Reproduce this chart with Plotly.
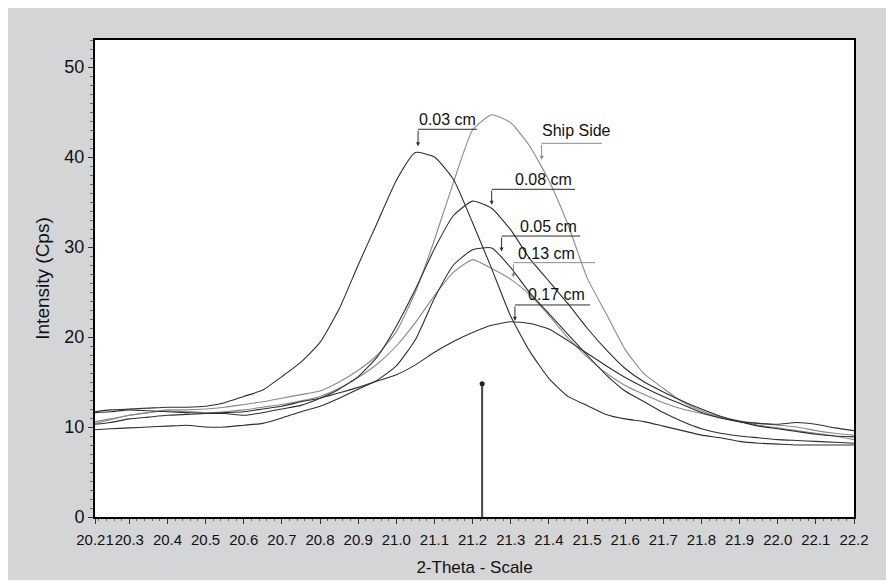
import plotly.graph_objects as go

# ---------------- data ----------------
two_theta = [20.21, 20.25, 20.30, 20.35, 20.40, 20.45, 20.50, 20.55, 20.60, 20.65,
             20.70, 20.75, 20.80, 20.85, 20.90, 20.95, 21.00, 21.05, 21.10, 21.15,
             21.20, 21.25, 21.30, 21.35, 21.40, 21.45, 21.50, 21.55, 21.60, 21.65,
             21.70, 21.75, 21.80, 21.85, 21.90, 21.95, 22.00, 22.05, 22.10, 22.15, 22.20]

i_003 = [11.7, 11.9, 12.0, 12.1, 12.2, 12.2, 12.3, 12.7, 13.4, 14.1,
         15.6, 17.2, 19.4, 23.1, 28.0, 32.7, 37.4, 40.5, 40.0, 37.5,
         32.7, 27.6, 22.3, 18.4, 15.4, 13.4, 12.4, 11.4, 10.9, 10.6,
         10.1, 9.6, 9.1, 8.8, 8.4, 8.2, 8.1, 8.0, 8.0, 8.0, 8.0]

i_ship = [10.4, 10.8, 11.3, 11.6, 11.9, 11.9, 12.0, 12.2, 12.5, 12.8,
          13.2, 13.6, 14.0, 15.0, 16.3, 18.0, 20.6, 25.0, 30.8, 37.2,
          43.0, 44.7, 43.8, 41.2, 37.4, 32.5, 26.6, 22.6, 18.6, 15.9,
          14.3, 12.8, 11.8, 11.1, 10.7, 10.4, 10.2, 10.0, 9.6, 9.3, 9.1]

i_008 = [10.3, 10.5, 10.9, 11.1, 11.3, 11.4, 11.5, 11.5, 11.3, 11.6,
         12.0, 12.4, 13.2, 14.2, 15.6, 17.8, 21.2, 25.3, 29.8, 33.5,
         35.1, 34.3, 31.9, 28.7, 26.2, 23.7, 21.0, 18.6, 16.5, 15.0,
         13.9, 12.9, 12.0, 11.2, 10.6, 10.1, 9.8, 9.5, 9.2, 9.0, 8.9]

i_005 = [9.7, 9.8, 9.9, 10.0, 10.1, 10.2, 10.0, 10.0, 10.2, 10.4,
         11.0, 11.7, 12.3, 13.2, 14.2, 15.2, 16.8, 19.7, 24.3, 28.0,
         29.7, 29.9, 27.7, 24.9, 22.6, 20.3, 18.0, 15.8, 14.0, 12.8,
         11.6, 10.6, 9.8, 9.3, 9.0, 8.8, 8.6, 8.5, 8.4, 8.3, 8.2]

i_013 = [10.6, 10.9, 11.3, 11.6, 11.8, 11.7, 11.6, 11.7, 11.9, 12.2,
         12.5, 12.9, 13.4, 14.3, 15.5, 17.0, 19.0, 21.6, 24.6, 27.2,
         28.6, 27.6, 26.4, 24.7, 22.4, 19.9, 17.8, 16.0, 14.6, 13.6,
         12.7, 12.0, 11.5, 11.0, 10.6, 10.2, 9.9, 9.6, 9.3, 9.0, 8.6]

i_017 = [11.6, 11.7, 11.9, 11.8, 11.7, 11.6, 11.5, 11.6, 11.7, 12.0,
         12.3, 12.8, 13.2, 13.8, 14.4, 15.1, 15.8, 16.9, 18.3, 19.5,
         20.5, 21.3, 21.7, 21.5, 20.9, 19.6, 18.2, 16.8, 15.5, 14.4,
         13.4, 12.5, 11.6, 11.0, 10.6, 10.4, 10.3, 10.5, 10.3, 9.9, 9.6]

ref_x = [21.225, 21.225]
ref_y = [0, 14.8]

x_tick_vals = [20.21, 20.3, 20.4, 20.5, 20.6, 20.7, 20.8, 20.9, 21.0, 21.1,
               21.2, 21.3, 21.4, 21.5, 21.6, 21.7, 21.8, 21.9, 22.0, 22.1, 22.2]
x_tick_text = ["20.21", "20.3", "20.4", "20.5", "20.6", "20.7", "20.8", "20.9", "21.0", "21.1",
               "21.2", "21.3", "21.4", "21.5", "21.6", "21.7", "21.8", "21.9", "22.0", "22.1", "22.2"]

# ---------------- styles ----------------
DARK = "#2e2e2e"
GRAY = "#8a8a8a"
BG = "#d4d5d7"
FONT = "Liberation Sans Narrow, Arial Narrow, Liberation Sans, Arial, sans-serif"

series = [
    ("Ship Side", i_ship, GRAY),
    ("0.13 cm", i_013, GRAY),
    ("0.03 cm", i_003, DARK),
    ("0.08 cm", i_008, DARK),
    ("0.05 cm", i_005, DARK),
    ("0.17 cm", i_017, DARK),
]

fig = go.Figure()
for name, vals, col in series:
    fig.add_trace(go.Scatter(x=two_theta, y=vals, mode="lines", name=name,
                             line=dict(color=col, width=1.1, shape="spline", smoothing=0.5)))

fig.add_trace(go.Scatter(x=ref_x, y=ref_y, mode="lines", line=dict(color="#444", width=2),
                         showlegend=False))
fig.add_trace(go.Scatter(x=[ref_x[1]], y=[ref_y[1]], mode="markers",
                         marker=dict(color="#222", size=5), showlegend=False))

# callout labels: (text, text_x, text_y, line_x0, line_x1, line_y, arrow_tip_y, color)
callouts = [
    ("0.03 cm", 21.133, 44.2, 21.057, 21.212, 43.08, 41.2, DARK),
    ("Ship Side", 21.472, 43.0, 21.381, 21.539, 41.52, 39.7, GRAY),
    ("0.08 cm", 21.387, 37.45, 21.250, 21.469, 36.41, 34.7, DARK),
    ("0.05 cm", 21.400, 32.3, 21.276, 21.482, 31.22, 29.5, DARK),
    ("0.13 cm", 21.395, 29.3, 21.307, 21.521, 28.26, 26.6, GRAY),
    ("0.17 cm", 21.421, 24.7, 21.311, 21.508, 23.56, 21.8, DARK),
]
for text, tx, ty, lx0, lx1, ly, tipy, col in callouts:
    fig.add_shape(type="line", xref="x", yref="y", x0=lx0, x1=lx1, y0=ly, y1=ly,
                  line=dict(color=col, width=1))
    fig.add_annotation(x=lx0, y=tipy, ax=lx0, ay=ly, xref="x", yref="y", axref="x", ayref="y",
                       text="", showarrow=True, arrowhead=2, arrowsize=0.8, arrowwidth=1,
                       arrowcolor=col)
    fig.add_annotation(x=tx, y=ty, xref="x", yref="y", text=text, showarrow=False,
                       font=dict(family=FONT, size=16, color="#111"))

# thin white border around the gray frame
for x0, x1, y0, y1 in [(-0.2, 1.2, 1.067, 1.2), (-0.2, -0.1146, -0.2, 1.2), (-0.2, 1.2, -0.2, -0.1325)]:
    fig.add_shape(type="rect", xref="paper", yref="paper", x0=x0, x1=x1, y0=y0, y1=y1,
                  fillcolor="white", line=dict(width=0), layer="below")

fig.update_layout(
    width=886, height=583,
    margin=dict(l=95, r=32, t=40, b=66, autoexpand=False),
    paper_bgcolor=BG, plot_bgcolor="white",
    showlegend=False,
    font=dict(family=FONT, size=16, color="#111"),
)
fig.update_xaxes(range=[20.21, 22.2], tickmode="array", tickvals=x_tick_vals, ticktext=x_tick_text,
                 tickangle=0, automargin=False, ticklabelstandoff=3,
                 ticks="outside", ticklen=5, tickcolor="#333", showgrid=False, zeroline=False,
                 showline=True, linecolor="black", linewidth=2, mirror=True,
                 tickfont=dict(family=FONT, size=15, color="#111"),
                 minor=dict(tickmode="linear", tick0=20.2, dtick=0.02, ticks="outside", ticklen=2,
                            tickcolor="#666"),
                 title=dict(text="2-Theta - Scale", standoff=14,
                            font=dict(family=FONT, size=17, color="#111")))
fig.update_yaxes(range=[0, 53], tickvals=[0, 10, 20, 30, 40, 50], automargin=False,
                 ticks="outside", ticklen=5, tickcolor="#333", showgrid=False, zeroline=False,
                 showline=True, linecolor="black", linewidth=2, mirror=True,
                 tickfont=dict(family=FONT, size=18, color="#111"),
                 minor=dict(tickmode="linear", tick0=0, dtick=1, ticks="outside", ticklen=3,
                            tickcolor="#666"),
                 title=dict(text="Intensity (Cps)", standoff=10,
                            font=dict(family=FONT, size=19, color="#111")))

fig.write_html("out.html")
